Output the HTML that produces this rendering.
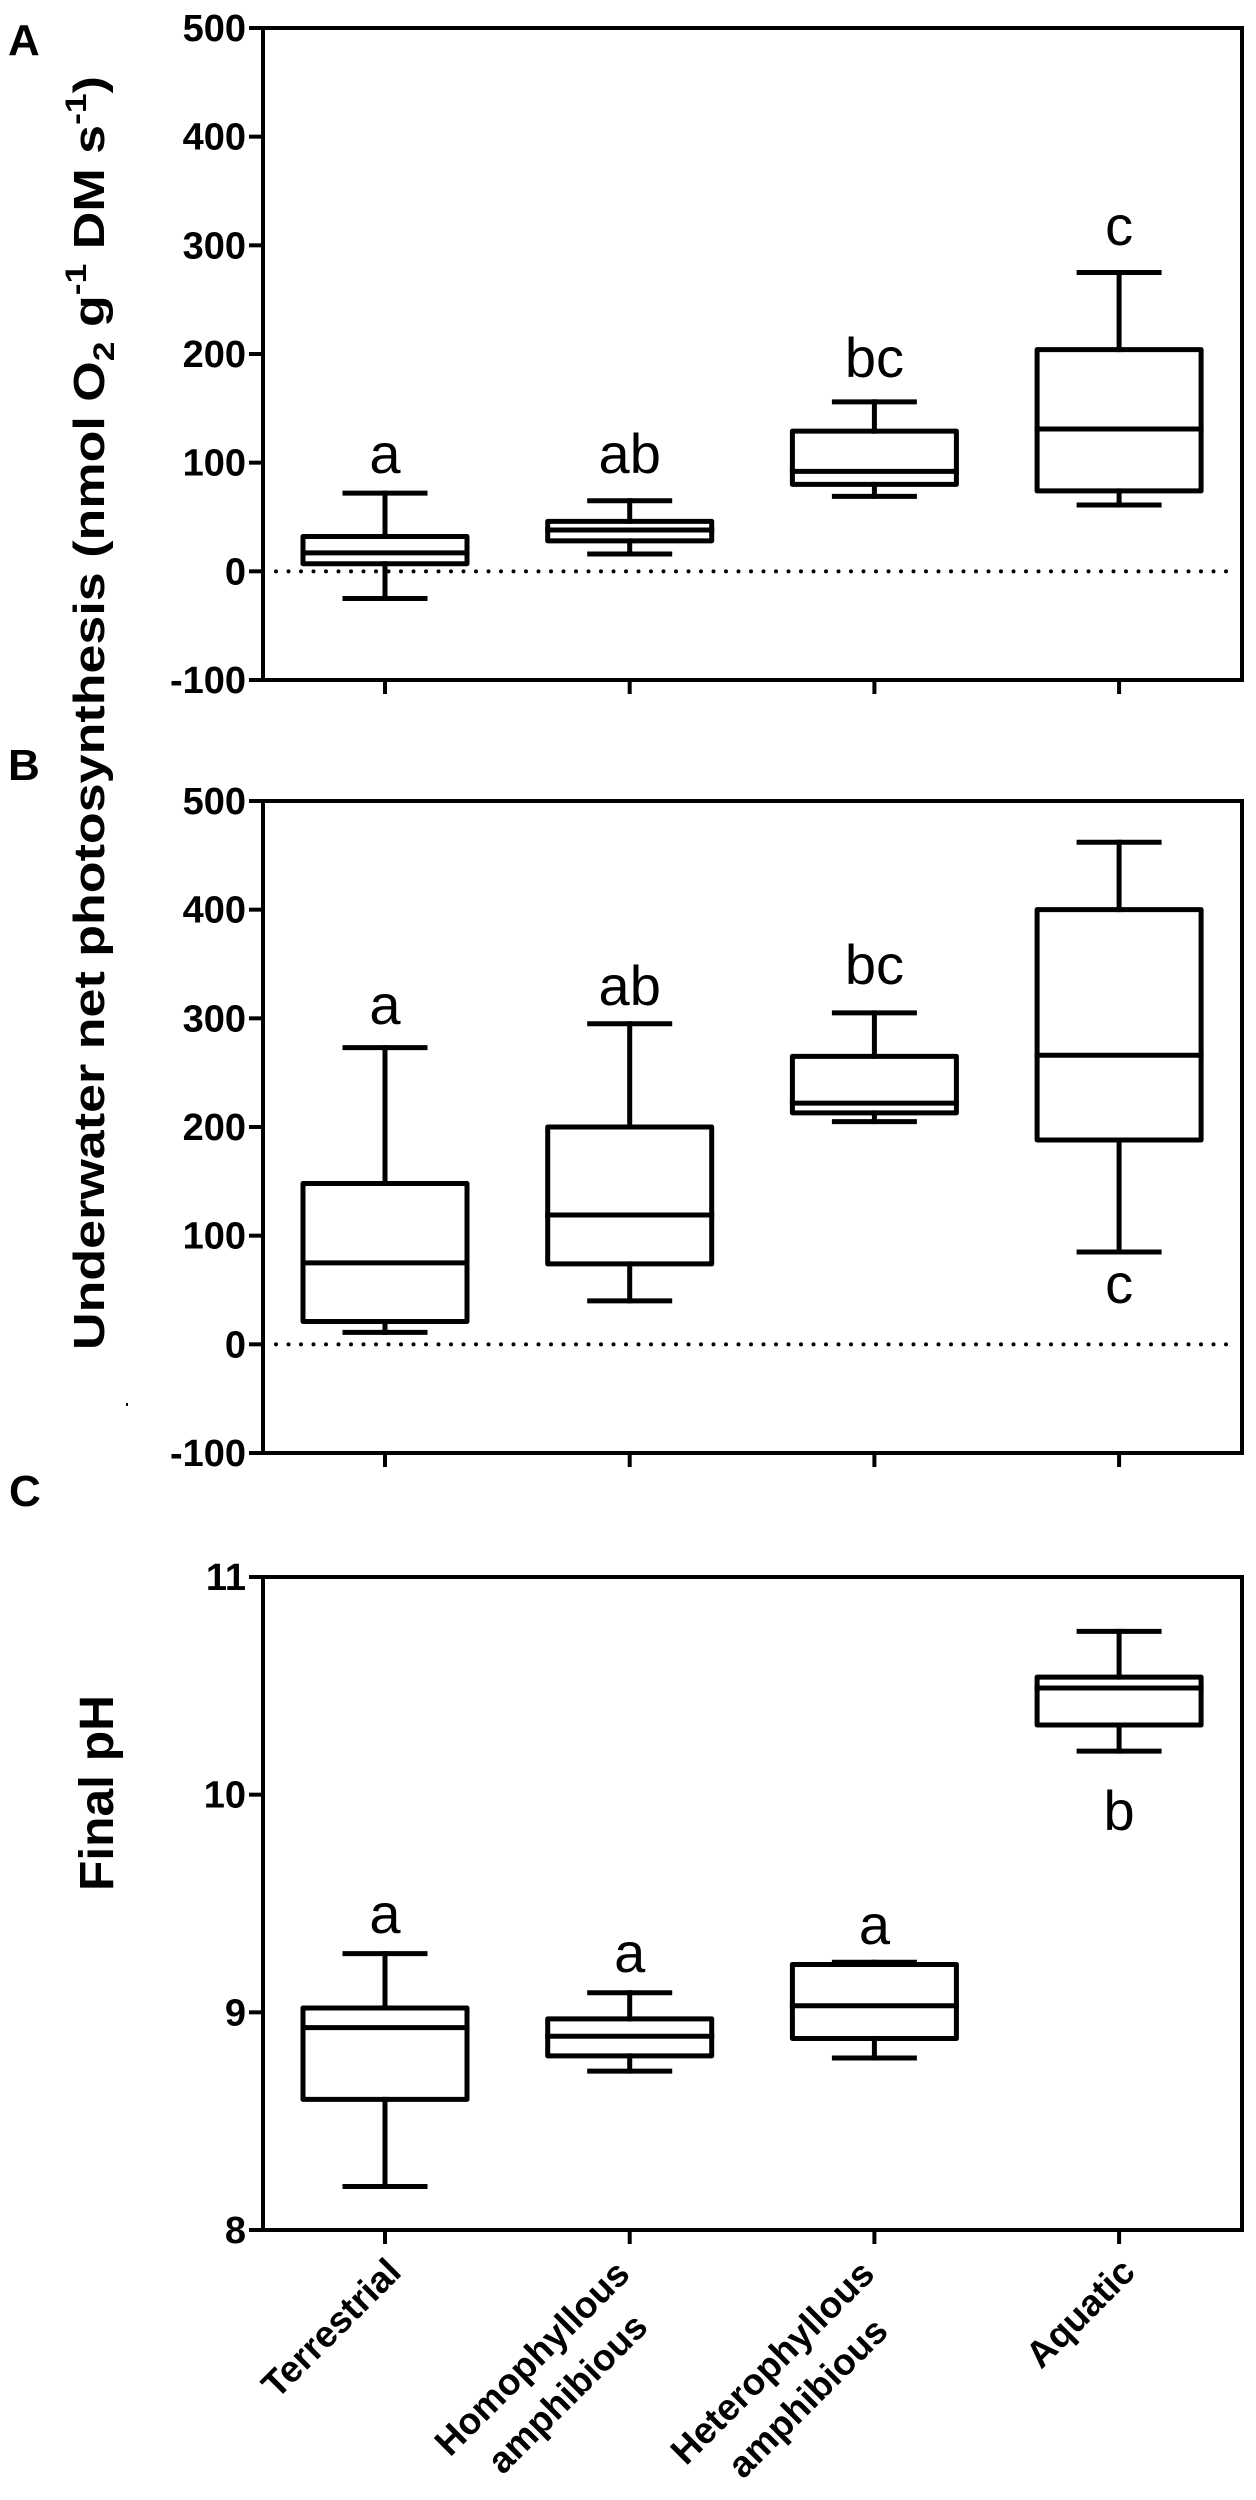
<!DOCTYPE html>
<html><head><meta charset="utf-8"><style>
html,body{margin:0;padding:0;background:#fff;}
svg{display:block;}
text{font-family:"Liberation Sans",Arial,sans-serif;fill:#000;}
</style></head><body>
<svg id="chart" width="1256" height="2500" viewBox="0 0 1256 2500" xmlns="http://www.w3.org/2000/svg">
<text x="8" y="55" font-size="44" font-weight="bold">A</text>
<text x="8" y="780" font-size="44" font-weight="bold">B</text>
<text x="9" y="1506" font-size="44" font-weight="bold">C</text>
<text transform="translate(104,713) rotate(-90)" text-anchor="middle" font-size="44" font-weight="bold" textLength="1274" lengthAdjust="spacingAndGlyphs">Underwater net photosynthesis (nmol O<tspan font-size="30" dy="10">2</tspan><tspan dy="-10"> g</tspan><tspan font-size="30" dy="-18">-1</tspan><tspan dy="18"> DM s</tspan><tspan font-size="30" dy="-18">-1</tspan><tspan dy="18">)</tspan></text>
<text transform="translate(113,1793) rotate(-90)" text-anchor="middle" font-size="48" font-weight="bold" textLength="196" lengthAdjust="spacingAndGlyphs">Final pH</text>
<rect x="126" y="1403" width="2" height="3" fill="#000"/>
<g id="plots"></g>
</svg>
<script>
const categories = ["Terrestrial", "Homophyllous amphibious", "Heterophyllous amphibious", "Aquatic"];
// Panel A: [whiskerLow, q1, median, q3, whiskerHigh]
const aLow = [-25, 16, 69, 61];
const aQ1 = [7, 28, 80, 74];
const aMed = [17, 38, 92, 131];
const aQ3 = [32, 46, 129, 204];
const aHigh = [72, 65, 156, 275];
const aLetters = ["a", "ab", "bc", "c"];
// Panel B
const bLow = [11, 40, 205, 85];
const bQ1 = [21, 74, 213, 188];
const bMed = [75, 119, 222, 266];
const bQ3 = [148, 200, 265, 400];
const bHigh = [273, 295, 305, 462];
const bLetters = ["a", "ab", "bc", "c"];
// Panel C
const cLow = [8.2, 8.73, 8.79, 10.2];
const cQ1 = [8.6, 8.8, 8.88, 10.32];
const cMed = [8.93, 8.89, 9.03, 10.49];
const cQ3 = [9.02, 8.97, 9.22, 10.54];
const cHigh = [9.27, 9.09, 9.23, 10.75];
const cLetters = ["a", "a", "a", "b"];
const abTicks = [-100, 0, 100, 200, 300, 400, 500];
const cTicks = [8, 9, 10, 11];

const NS = "http://www.w3.org/2000/svg";
const root = document.getElementById("plots");
const L = 263, R = 1242;
function xScale(i){ return 385 + i * 244.7; }
function mk(tag, attrs, parent){
  const e = document.createElementNS(NS, tag);
  for (const k in attrs) e.setAttribute(k, attrs[k]);
  (parent || root).appendChild(e);
  return e;
}
function line(x1,y1,x2,y2,w,g){ return mk("line",{x1:x1,y1:y1,x2:x2,y2:y2,stroke:"#000","stroke-width":w,"stroke-linecap":"square"},g); }

function panel(key, yTop, yBot, vMin, vMax, ticks, low, q1, med, q3, high, letters, letterPos, dotted){
  const y = v => yBot - (v - vMin) / (vMax - vMin) * (yBot - yTop);
  const g = mk("g", {});
  
  
  const frame = mk("rect",{x:L,y:yTop,width:R-L,height:yBot-yTop,fill:"none",stroke:"#000","stroke-width":4},g);
  
  
  ticks.forEach(t => {
    const tl = line(251, y(t), L, y(t), 4, g);
    
    
    const tx = mk("text",{x:246,y:y(t)+13,"text-anchor":"end","font-size":38,"font-weight":"bold"},g);
    tx.textContent = String(t);
    
    
  });
  if (dotted){
    const d = mk("line",{x1:276,y1:y(0),x2:1236,y2:y(0),stroke:"#000","stroke-width":4,"stroke-dasharray":"0 12.5","stroke-linecap":"round"},g);
    
    
  }
  categories.forEach((c,i) => {
    const cx = xScale(i);
    const xt = line(cx, yBot, cx, yBot+12, 4, g);
    
    
    const bg = mk("g",{},g);
    
    
    line(cx, y(high[i]), cx, y(q3[i]), 5, bg);
    line(cx, y(low[i]), cx, y(q1[i]), 5, bg);
    line(cx-40, y(high[i]), cx+40, y(high[i]), 5, bg);
    line(cx-40, y(low[i]), cx+40, y(low[i]), 5, bg);
    mk("rect",{x:cx-82,y:y(q3[i]),width:164,height:Math.max(1,y(q1[i])-y(q3[i])),fill:"none",stroke:"#000","stroke-width":5,"stroke-linejoin":"round"},bg);
    line(cx-82, y(med[i]), cx+82, y(med[i]), 5, bg);
    const lt = mk("text",{x:cx,y:letterPos[i],"text-anchor":"middle","font-size":56},g);
    lt.textContent = letters[i];
    
    
  });
}
panel("a", 28, 680, -100, 500, abTicks, aLow, aQ1, aMed, aQ3, aHigh, aLetters, [473, 473, 377, 245], true);
panel("b", 801, 1453, -100, 500, abTicks, bLow, bQ1, bMed, bQ3, bHigh, bLetters, [1024, 1005, 984, 1303], true);
panel("c", 1577, 2230, 8, 11, cTicks, cLow, cQ1, cMed, cQ3, cHigh, cLetters, [1933, 1972, 1944, 1830], false);

// x-axis category labels
const labelLines = [["Terrestrial"], ["Homophyllous", "amphibious"], ["Heterophyllous", "amphibious"], ["Aquatic"]];
labelLines.forEach((lines,i) => {
  const cx = xScale(i);
  const single = lines.length === 1;
  const ax = single ? cx + 18 : cx + 2;
  const ay = single ? 2274 : 2276;
  const g = mk("g",{transform:"translate("+ax+","+ay+") rotate(-45)"});
  
  
  const t1 = mk("text",{x:0,y:0,"text-anchor":"end","font-size":37,"font-weight":"bold"},g);
  t1.textContent = lines[0];
  if (!single){
    const w1 = t1.getComputedTextLength();
    const t2 = mk("text",{x:0,y:50,"text-anchor":"end","font-size":37,"font-weight":"bold"},g);
    t2.textContent = lines[1];
    const w2 = t2.getComputedTextLength();
    t2.setAttribute("x", -(w1 - w2) / 2);
  }
});
</script>
</body></html>
